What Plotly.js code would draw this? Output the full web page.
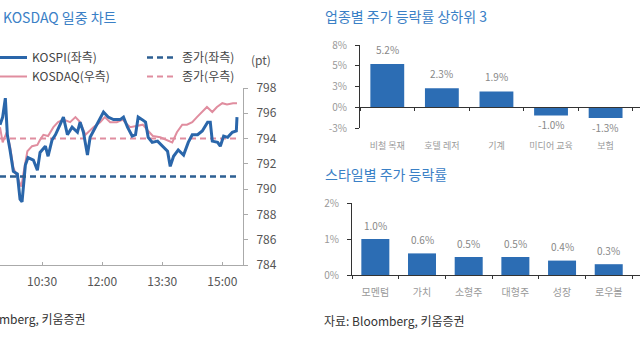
<!DOCTYPE html>
<html>
<head>
<meta charset="utf-8">
<script src="https://cdn.plot.ly/plotly-3.0.1.min.js"></script>
<style>html,body{margin:0;padding:0;background:#fff;}#chart{width:640px;height:360px;}</style>
</head>
<body>
<div id="chart"></div>
<script>
// ---- Intraday chart data (right-axis units) ----
const kospiTimes = ["09:27","09:31","09:35","09:38","09:42","09:47","09:53","09:57","10:00","10:05","10:09","10:17","10:23","10:27","10:35","10:39","10:45","10:50","10:57","11:02","11:08","11:15","11:23","11:27","11:32","11:38","11:42","11:50","11:57","12:02","12:09","12:17","12:27","12:32","12:38","12:45","12:50","12:54","13:00","13:05","13:09","13:15","13:23","13:30","13:38","13:42","13:47","13:54","14:02","14:09","14:15","14:23","14:30","14:38","14:42","14:45","14:53","14:57","15:02","15:08","15:15","15:21","15:22"];
const kospiValues = [795.1,795.7,797.2,794.3,793.1,791.4,791.2,789.2,789.0,791.9,792.5,792.3,791.5,792.9,793.4,792.6,793.9,794.3,795.1,795.7,794.3,794.9,794.5,795.3,794.5,792.7,794.1,794.9,795.5,796.1,795.7,795.5,795.5,795.7,794.9,794.2,794.3,795.7,795.5,795.3,794.1,793.7,793.8,793.4,793.0,791.8,792.6,793.1,792.7,793.7,794.3,794.3,794.6,795.3,795.3,793.8,793.7,793.4,794.2,794.1,794.5,794.6,795.7];
const kosdaqTimes = ["09:27","09:31","09:37","09:42","09:47","09:54","09:59","10:02","10:08","10:15","10:23","10:27","10:32","10:39","10:47","10:54","11:02","11:12","11:20","11:27","11:35","11:39","11:47","11:57","12:04","12:12","12:22","12:31","12:34","12:42","12:52","13:01","13:09","13:16","13:27","13:37","13:45","13:52","14:00","14:07","14:15","14:22","14:30","14:37","14:45","14:52","15:00","15:07","15:16","15:22"];
const kosdaqValues = [794.9,793.7,794.5,793.4,791.7,790.9,790.2,791.2,793.0,793.4,793.5,793.9,794.3,794.2,794.9,795.3,795.5,795.3,795.7,795.3,794.3,794.5,794.9,795.3,795.7,795.3,795.3,795.5,795.3,794.9,795.0,795.1,794.6,794.2,794.1,793.9,793.7,794.5,795.1,795.1,795.3,795.7,796.1,796.5,796.1,796.5,796.8,796.7,796.8,796.8];
const kospiClose = 791.0;
const kosdaqClose = 794.0;
const closeSpan = ["09:27","15:22"];
const timeTicks = ["10:30","12:00","13:30","15:00"];
const yTicksRight = [784,786,788,790,792,794,796,798];

// ---- Sector bar chart ----
const sectorCats = ["비철 목재","호텔 레저","기계","미디어 교육","보험"];
const sectorVals = [5.2,2.3,1.9,-1.0,-1.3];
const sectorTickVals = [-2.5,0,2.5,5,7.5];
const sectorTickText = ["-3%","0%","3%","5%","8%"];

// ---- Style bar chart ----
const styleCats = ["모멘텀","가치","소형주","대형주","성장","로우볼"];
const styleVals = [1.0,0.6,0.5,0.5,0.4,0.3];
const styleTickVals = [0,1,2];
const styleTickText = ["0%","1%","2%"];

const day = "2024-01-02 ";
const d = t => day + t;
const FONT = "Noto Sans CJK KR, Noto Sans, sans-serif";
const BLUE = "#2c6db4";
const PINK = "#e08d9f";
const TITLE = "#3a80c6";
const W = 640, H = 360;
const px = x => x / W;
const py = y => 1 - y / H;

const traces = [
  {x: kospiTimes.map(d), y: kospiValues, type: "scatter", mode: "lines", name: "KOSPI(좌측)",
   line: {color: "#2a66aa", width: 3}, xaxis: "x", yaxis: "y2", legend: "legend"},
  {x: kosdaqTimes.map(d), y: kosdaqValues, type: "scatter", mode: "lines", name: "KOSDAQ(우측)",
   line: {color: PINK, width: 2}, xaxis: "x", yaxis: "y", legend: "legend"},
  {x: closeSpan.map(d), y: closeSpan.map(() => kospiClose), type: "scatter", mode: "lines", name: "종가(좌측)",
   line: {color: "#2d5f92", width: 2.5, dash: "6px,4px"}, xaxis: "x", yaxis: "y2", legend: "legend2"},
  {x: closeSpan.map(d), y: closeSpan.map(() => kosdaqClose), type: "scatter", mode: "lines", name: "종가(우측)",
   line: {color: PINK, width: 2, dash: "6px,4px"}, xaxis: "x", yaxis: "y", legend: "legend2"},
  {x: sectorCats, y: sectorVals, type: "bar", marker: {color: BLUE}, width: 0.62,
   xaxis: "x2", yaxis: "y3", showlegend: false},
  {x: styleCats, y: styleVals, type: "bar", marker: {color: BLUE}, width: 0.6,
   xaxis: "x3", yaxis: "y4", showlegend: false}
];

const annotations = [];
sectorCats.forEach((c, i) => {
  const v = sectorVals[i];
  annotations.push({x: c, y: v, xref: "x2", yref: "y3", text: v.toFixed(1) + "%", showarrow: false,
    yshift: v >= 0 ? 15 : -9, font: {family: FONT, size: 10, color: "#888"}});
});
styleCats.forEach((c, i) => {
  const v = styleVals[i];
  annotations.push({x: c, y: v, xref: "x3", yref: "y4", text: v.toFixed(1) + "%", showarrow: false,
    yshift: 14, font: {family: FONT, size: 10, color: "#888"}});
});
annotations.push(
  {xref: "paper", yref: "paper", x: px(1), y: py(17), xanchor: "left", yanchor: "middle", showarrow: false,
   text: "KOSDAQ 일중 차트", font: {family: FONT, size: 14, color: TITLE}},
  {xref: "paper", yref: "paper", x: px(323), y: py(16), xanchor: "left", yanchor: "middle", showarrow: false,
   text: "업종별 주가 등락률 상하위 3", font: {family: FONT, size: 14, color: TITLE}},
  {xref: "paper", yref: "paper", x: px(323), y: py(174), xanchor: "left", yanchor: "middle", showarrow: false,
   text: "스타일별 주가 등락률", font: {family: FONT, size: 14, color: TITLE}},
  {xref: "paper", yref: "paper", x: px(88), y: py(318), xanchor: "right", yanchor: "middle", showarrow: false,
   text: "자료: Bloomberg, 키움증권", font: {family: FONT, size: 12, color: "#333"}},
  {xref: "paper", yref: "paper", x: px(322), y: py(320), xanchor: "left", yanchor: "middle", showarrow: false,
   text: "자료: Bloomberg, 키움증권", font: {family: FONT, size: 12, color: "#333"}},
  {xref: "paper", yref: "paper", x: px(261), y: py(60), xanchor: "center", yanchor: "middle", showarrow: false,
   text: "(pt)", font: {family: FONT, size: 12, color: "#555"}}
);

const tickFont = {family: FONT, size: 12, color: "#555"};
const smallFont = {family: FONT, size: 10, color: "#999"};
const catFont = {family: FONT, size: 9, color: "#999"};

const layout = {
  width: W, height: H,
  margin: {l: 0, r: 0, t: 0, b: 0, autoexpand: false},
  paper_bgcolor: "#fff", plot_bgcolor: "rgba(0,0,0,0)",
  font: {family: FONT},
  showlegend: true,
  legend: {x: px(-8), y: py(43), xanchor: "left", yanchor: "top", orientation: "v",
    bgcolor: "rgba(0,0,0,0)", font: {family: FONT, size: 12, color: "#444"}, tracegroupgap: 0},
  legend2: {x: px(142), y: py(43), xanchor: "left", yanchor: "top", orientation: "v",
    bgcolor: "rgba(0,0,0,0)", font: {family: FONT, size: 12, color: "#444"}, tracegroupgap: 0},
  xaxis: {domain: [0, px(243)], type: "date", range: [d("09:27"), d("15:31")],
    tickvals: timeTicks.map(d), ticktext: timeTicks, showgrid: false, zeroline: false,
    showline: true, linecolor: "#aaa", linewidth: 1, ticks: "inside", ticklen: 3, tickcolor: "#aaa",
    tickfont: tickFont, anchor: "y", ticklabelstandoff: 6},
  yaxis: {domain: [py(265), py(88)], range: [784, 798], tickvals: yTicksRight, side: "right",
    anchor: "x", showgrid: false, zeroline: false, showline: true, linecolor: "#aaa",
    ticks: "outside", ticklen: 4, tickcolor: "#aaa", tickfont: tickFont, ticklabelstandoff: 6},
  yaxis2: {overlaying: "y", range: [784, 798], visible: false, anchor: "x"},
  xaxis2: {domain: [px(360), 1], range: [-0.5, 4.63], type: "category", anchor: "free",
    position: py(107), showgrid: false, zeroline: false, showline: true, linecolor: "#333",
    ticks: "outside", ticklen: 3, tickcolor: "#333", tickson: "boundaries", tickangle: 0,
    tickfont: catFont, ticklabelstandoff: 30},
  yaxis3: {domain: [py(128), py(45)], range: [-2.5, 7.5], tickvals: sectorTickVals, ticktext: sectorTickText,
    anchor: "x2", showgrid: false, zeroline: false, showline: true, linecolor: "#333",
    ticks: "outside", ticklen: 4, tickcolor: "#333", tickfont: smallFont, ticklabelstandoff: 6},
  xaxis3: {domain: [px(352), 1], range: [-0.5, 5.67], type: "category", anchor: "y4",
    showgrid: false, zeroline: false, showline: true, linecolor: "#333",
    ticks: "outside", ticklen: 3, tickcolor: "#333", tickson: "boundaries", tickangle: 0,
    tickfont: smallFont, ticklabelstandoff: 8},
  yaxis4: {domain: [py(275), py(203)], range: [0, 2], tickvals: styleTickVals, ticktext: styleTickText,
    anchor: "x3", showgrid: false, zeroline: false, showline: true, linecolor: "#333",
    ticks: "outside", ticklen: 4, tickcolor: "#333", tickfont: smallFont, ticklabelstandoff: 6},
  annotations: annotations
};

Plotly.newPlot("chart", traces, layout, {staticPlot: true, displayModeBar: false});
</script>
</body>
</html>
